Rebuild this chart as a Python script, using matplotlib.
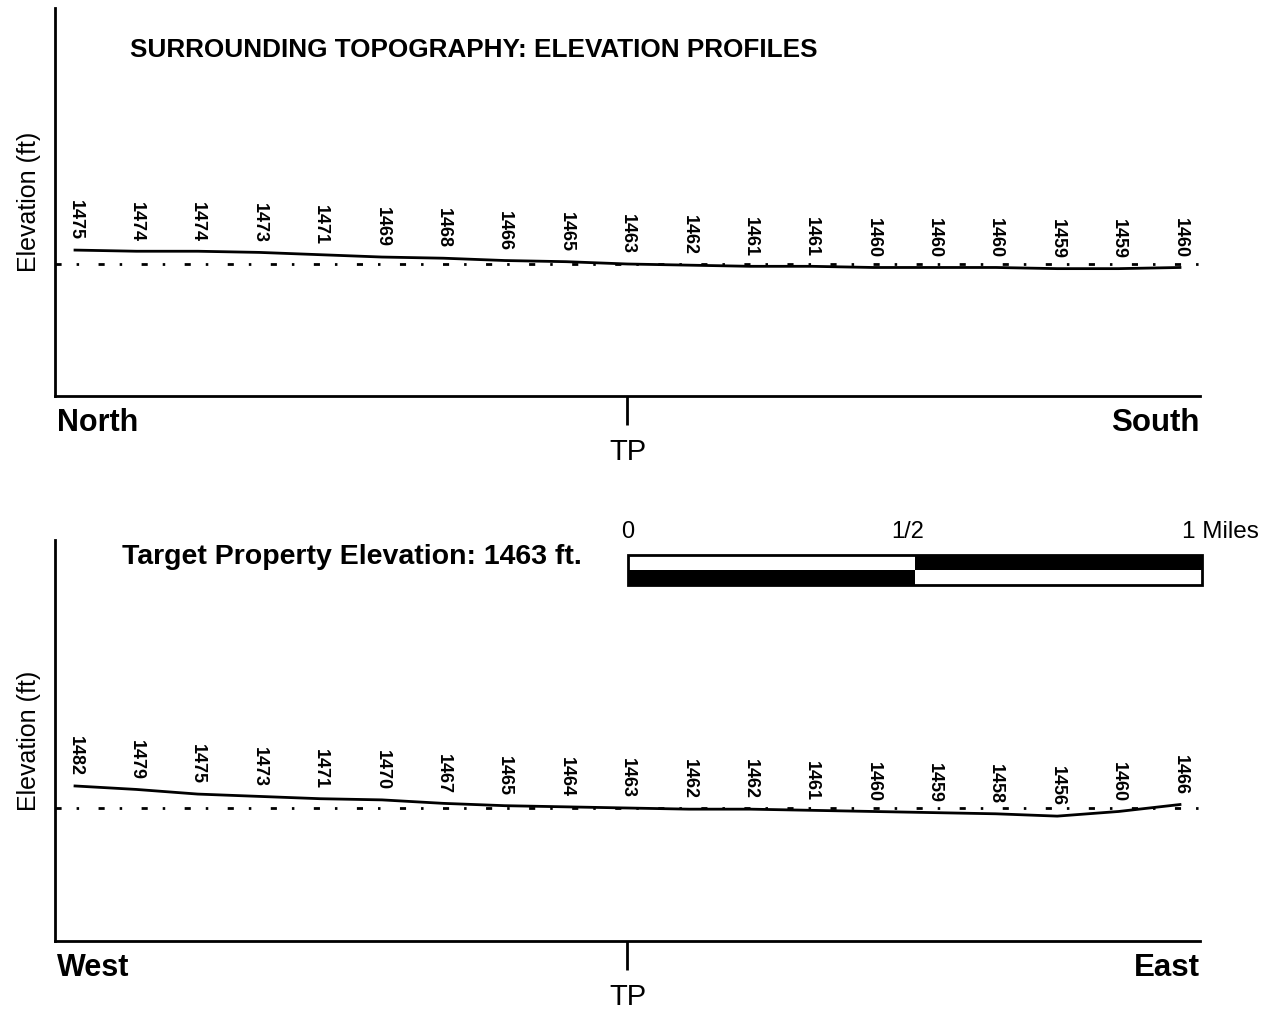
import matplotlib
matplotlib.use("Agg")
import matplotlib.pyplot as plt
from matplotlib.patches import Rectangle

plt.rcParams['font.family'] = ['Liberation Sans', 'DejaVu Sans']

tp_elev = 1463
ns_elev = [1475, 1474, 1474, 1473, 1471, 1469, 1468, 1466, 1465, 1463,
           1462, 1461, 1461, 1460, 1460, 1460, 1459, 1459, 1460]
we_elev = [1482, 1479, 1475, 1473, 1471, 1470, 1467, 1465, 1464, 1463,
           1462, 1462, 1461, 1460, 1459, 1458, 1456, 1460, 1466]
profiles = [("North", "South", ns_elev), ("West", "East", we_elev)]

W, H = 1272, 1011
fig = plt.figure(figsize=(W / 100, H / 100), dpi=100)

# axes boxes in pixels: (top, bottom)
boxes = [(8, 396), (540, 941)]
ref_px = [264, 808]
k = 1.16  # px per ft

dashdot = (0, (2.2, 5.4, 0.9, 7.0))

for (left_lbl, right_lbl, elev), (top, bot), ref in zip(profiles, boxes, ref_px):
    ax = fig.add_axes([55 / W, 1 - bot / H, (1200 - 55) / W, (bot - top) / H])
    x = list(range(len(elev)))
    ax.set_xlim(-0.326, 18.326)
    ax.set_ylim(tp_elev - (bot - ref) / k, tp_elev + (ref - top) / k)
    ax.axhline(tp_elev, color="black", lw=2, ls=dashdot)
    ax.plot(x, elev, color="black", lw=2)
    for xi, e in zip(x, elev):
        ax.annotate(str(e), (xi, e), xytext=(0, 7), textcoords="offset points",
                    rotation=-90, ha="center", va="bottom",
                    fontsize=13, fontweight="bold")
    for s in ["top", "right"]:
        ax.spines[s].set_visible(False)
    for s in ["left", "bottom"]:
        ax.spines[s].set_linewidth(2)
    ax.set_yticks([])
    ax.set_xticks([9])
    ax.set_xticklabels(["TP"], fontsize=21)
    ax.tick_params(axis="x", length=21, width=2, pad=9)
    ax.set_ylabel("Elevation (ft)", fontsize=18, labelpad=10)
    ax.text(0.002, -0.03, left_lbl, transform=ax.transAxes, ha="left", va="top",
            fontsize=22, fontweight="bold")
    ax.text(1.0, -0.03, right_lbl, transform=ax.transAxes, ha="right", va="top",
            fontsize=22.5, fontweight="bold")

fig.text(130 / W, 1 - 50 / H, "SURROUNDING TOPOGRAPHY: ELEVATION PROFILES",
         ha="left", va="center", fontsize=18.8, fontweight="bold")
fig.text(122 / W, 1 - 557 / H, "Target Property Elevation: 1463 ft.",
         ha="left", va="center", fontsize=20.5, fontweight="bold")

# scale bar
sb = fig.add_axes([628 / W, 1 - 585 / H, (1202 - 628) / W, 30 / H])
sb.set_xlim(0, 1)
sb.set_ylim(0, 1)
sb.axis("off")
sb.add_patch(Rectangle((0, 0.5), 0.5, 0.5, facecolor="white", edgecolor="none"))
sb.add_patch(Rectangle((0.5, 0.5), 0.5, 0.5, facecolor="black", edgecolor="none"))
sb.add_patch(Rectangle((0, 0), 0.5, 0.5, facecolor="black", edgecolor="none"))
sb.add_patch(Rectangle((0.5, 0), 0.5, 0.5, facecolor="white", edgecolor="none"))
sb.add_patch(Rectangle((0, 0), 1, 1, facecolor="none", edgecolor="black", lw=2,
                       clip_on=False))
fig.text(628 / W, 1 - 532 / H, "0", ha="center", va="center", fontsize=17)
fig.text(908 / W, 1 - 532 / H, "1/2", ha="center", va="center", fontsize=17)
fig.text(1182 / W, 1 - 532 / H, "1 Miles", ha="left", va="center", fontsize=17.5)

fig.savefig("out.png", dpi=100)
